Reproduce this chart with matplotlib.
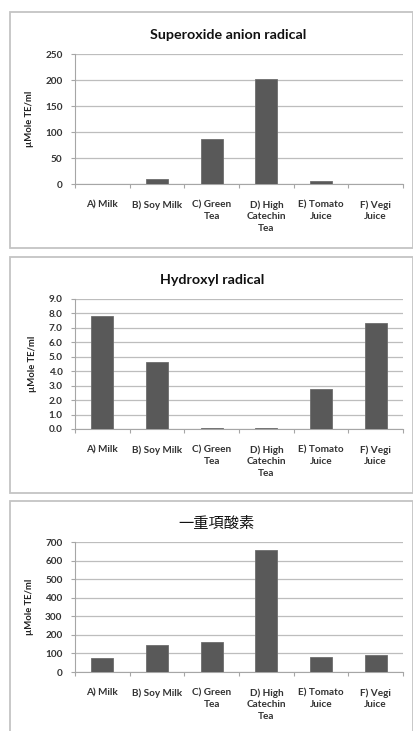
import matplotlib
matplotlib.use("Agg")
from matplotlib import pyplot as plt
from matplotlib.patches import Rectangle
from matplotlib.ticker import MultipleLocator, FormatStrFormatter

# drinks tested
drinks = ["A) Milk", "B) Soy Milk", "C) Green\nTea", "D) High\nCatechin\nTea",
          "E) Tomato\nJuice", "F) Vegi\nJuice"]

# scavenging capacity per radical (umole TE/ml)
superoxide = [0, 10, 87, 202, 5, 0]
hydroxyl = [7.85, 4.65, 0.1, 0.1, 2.8, 7.35]
singlet_oxygen = [75, 144, 160, 657, 79, 90]

titles = ["Superoxide anion radical", "Hydroxyl radical", "一重項酸素"]
y_max = [250, 9.0, 700]
y_step = [50, 1.0, 100]
y_fmt = ["%d", "%.1f", "%d"]
series = [superoxide, hydroxyl, singlet_oxygen]

W, H = 414, 731
fig = plt.figure(figsize=(W / 100, H / 100), dpi=100)
fig.patch.set_facecolor("white")

# pixel boxes: (frame top, frame bottom, plot top, plot bottom)
boxes = [(12, 248, 54, 184), (257, 493, 299, 429), (501, 740, 542, 672)]
title_x = [228, 212, 217]
plot_left, plot_right = 75, 403

text_col = "#333333"
grid_col = "#bdbdbd"

for i in range(3):
    ftop, fbot, ptop, pbot = boxes[i]

    # panel frame
    fig.patches.append(Rectangle((10 / W, 1 - fbot / H), 403 / W, (fbot - ftop) / H,
                                 transform=fig.transFigure, fill=False,
                                 edgecolor="#c4c4c4", linewidth=1.3))

    ax = fig.add_axes([plot_left / W, 1 - pbot / H,
                       (plot_right - plot_left) / W, (pbot - ptop) / H])
    x = list(range(len(drinks)))
    ax.bar(x, series[i], width=0.4, color="#595959", edgecolor="#6e6e6e",
           linewidth=0.6, zorder=3)

    ax.set_xlim(-0.5, len(drinks) - 0.5)
    ax.set_ylim(0, y_max[i])
    ax.yaxis.set_major_locator(MultipleLocator(y_step[i]))
    ax.yaxis.set_major_formatter(FormatStrFormatter(y_fmt[i]))
    ax.grid(axis="y", color=grid_col, linewidth=0.9, zorder=0)

    for side in ["top", "right"]:
        ax.spines[side].set_visible(False)
    ax.spines["left"].set_color("#a6a6a6")
    ax.spines["bottom"].set_color("#a6a6a6")

    # category labels between boundary tick marks
    ax.set_xticks([k + 0.5 for k in range(-1, len(drinks))])
    ax.set_xticklabels([])
    ax.tick_params(axis="x", length=3, color="#a6a6a6")
    for k, name in enumerate(drinks):
        ax.text(k, -0.125, name, transform=ax.get_xaxis_transform(),
                ha="center", va="top", fontsize=7.2, family="Lato",
                fontweight="bold", color=text_col, linespacing=1.35)

    ax.tick_params(axis="y", length=3, color="#a6a6a6", pad=6,
                   labelsize=7.2, labelcolor=text_col)
    for lab in ax.get_yticklabels():
        lab.set_family("Lato")
        lab.set_fontweight("bold")

    ax.set_ylabel("µMole TE/ml", fontsize=6.8, family="Lato", fontweight="bold",
                  color="#202020", labelpad=8)

    tx = (title_x[i] - plot_left) / (plot_right - plot_left)
    if i == 2:
        ax.set_title(titles[i], fontsize=11, x=tx,
                     family=["Noto Sans CJK JP", "DejaVu Sans"],
                     color="#111111", pad=10)
    else:
        ax.set_title(titles[i], fontsize=10.3, x=tx, family="Lato",
                     fontweight="bold", color="#111111", pad=11)

fig.savefig("out.png", dpi=100)
